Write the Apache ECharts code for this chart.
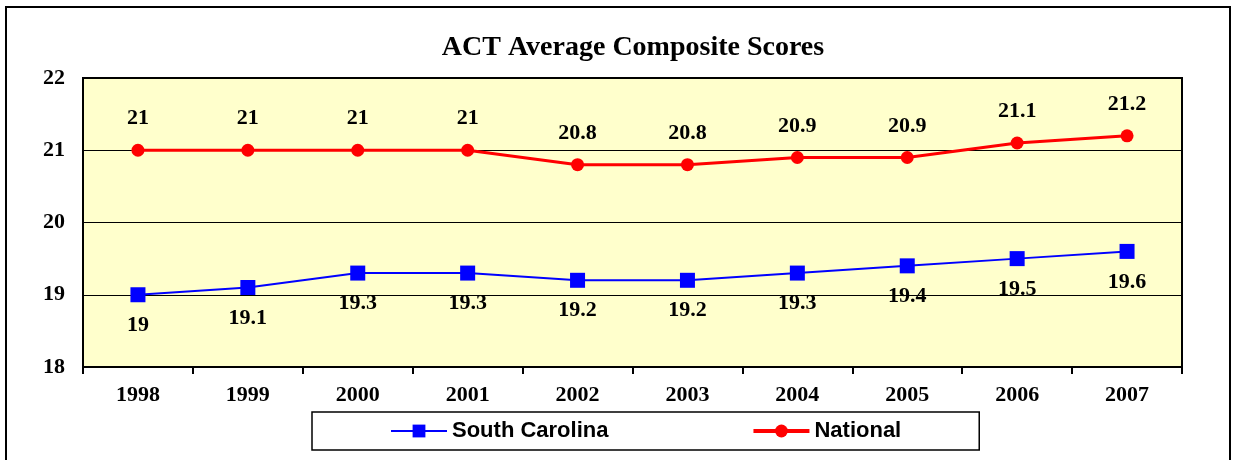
<!DOCTYPE html>
<html><head><meta charset="utf-8">
<script src="https://cdn.jsdelivr.net/npm/echarts@6/dist/echarts.min.js"></script>
<style>html,body{margin:0;padding:0;background:#fff}#c{width:1235px;height:460px}</style>
</head><body><div id="c"></div>
<script>
const years = ['1998','1999','2000','2001','2002','2003','2004','2005','2006','2007'];
const southCarolina = [19, 19.1, 19.3, 19.3, 19.2, 19.2, 19.3, 19.4, 19.5, 19.6];
const national = [21, 21, 21, 21, 20.8, 20.8, 20.9, 20.9, 21.1, 21.2];
const yTicks = [18, 19, 20, 21, 22];

const chart = echarts.init(document.getElementById('c'));
const serif = '"Liberation Serif","Times New Roman",serif';
chart.setOption({
  animation: false,
  title: {
    text: 'ACT Average Composite Scores', left: 628, textAlign: 'center', top: 29,
    textStyle: {fontFamily: serif, fontWeight: 'bold', fontSize: 28, color: '#000'}
  },
  graphic: [{
    type: 'rect', shape: {x: 6, y: 7, width: 1224, height: 460},
    style: {fill: 'none', stroke: '#000', lineWidth: 2}, silent: true, z: -1
  }],
  grid: {left: 83, right: 53, top: 78, bottom: 93, show: true,
    backgroundColor: '#FFFFCC', borderColor: '#000', borderWidth: 2},
  legend: {
    left: 312, top: 412, orient: 'horizontal',
    padding: [8, 78, 8, 78], itemGap: 143, itemWidth: 56, itemHeight: 16,
    borderColor: '#000', borderWidth: 1.5, backgroundColor: '#fff',
    textStyle: {fontFamily: '"Liberation Sans",Arial,sans-serif', fontWeight: 'bold', fontSize: 22, color: '#000'},
    data: [
      {name: 'South Carolina', lineStyle: {width: 2}},
      {name: 'National', lineStyle: {width: 4}}
    ]
  },
  xAxis: {
    type: 'category', data: years, boundaryGap: true,
    axisLine: {lineStyle: {color: '#000', width: 2}},
    axisTick: {show: true, length: 7, lineStyle: {color: '#000', width: 2}},
    axisLabel: {fontFamily: serif, fontWeight: 'bold', fontSize: 22, color: '#000', margin: 17},
    splitLine: {show: false}
  },
  yAxis: {
    type: 'value', min: yTicks[0], max: yTicks[yTicks.length-1], interval: 1,
    axisLine: {show: false}, axisTick: {show: false},
    axisLabel: {fontFamily: serif, fontWeight: 'bold', fontSize: 22, color: '#000', margin: 18},
    splitLine: {lineStyle: {color: '#000', width: 1.2}}
  },
  series: [{
    name: 'South Carolina', type: 'line', data: southCarolina,
    symbol: 'rect', symbolSize: 15,
    lineStyle: {color: '#0000FF', width: 2}, itemStyle: {color: '#0000FF'},
    label: {show: true, position: 'bottom', distance: 12, fontFamily: serif, fontWeight: 'bold', fontSize: 22, color: '#000'}
  }, {
    name: 'National', type: 'line', data: national,
    symbol: 'circle', symbolSize: 13,
    lineStyle: {color: '#FF0000', width: 3}, itemStyle: {color: '#FF0000'},
    label: {show: true, position: 'top', distance: 14, fontFamily: serif, fontWeight: 'bold', fontSize: 22, color: '#000'}
  }]
});
</script></body></html>
